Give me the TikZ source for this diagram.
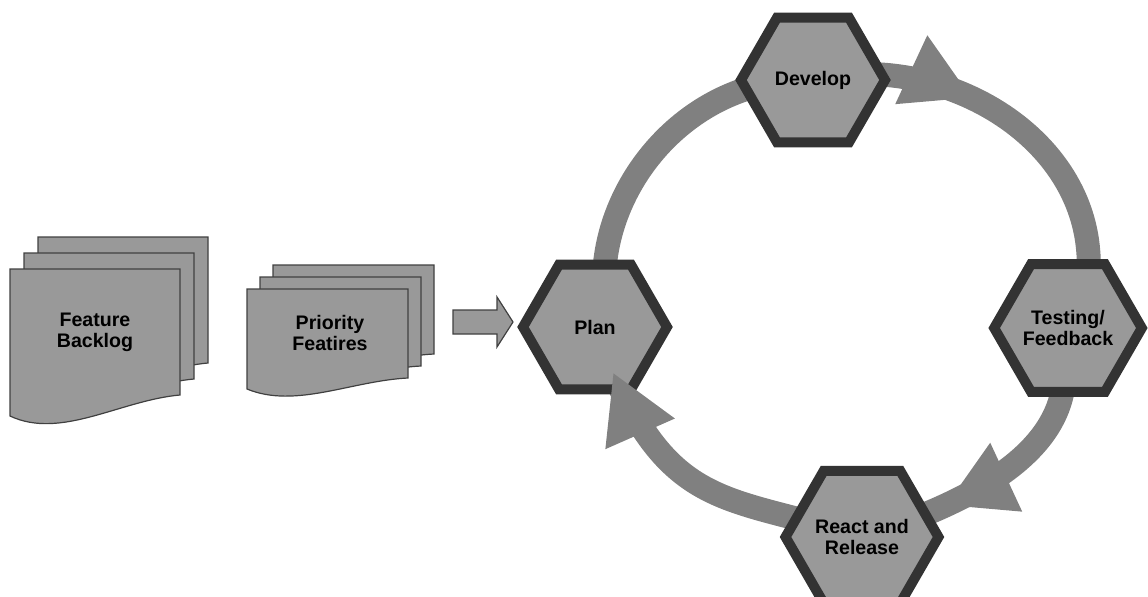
\documentclass[tikz,border=0pt]{standalone}
\usepackage{fontspec}
\setmainfont{Liberation Sans}
\usepackage{xcolor}
\usepackage{tikz}
\usetikzlibrary{arrows.meta}
\usetikzlibrary{shapes,shapes.geometric}
\usetikzlibrary{decorations.markings,backgrounds}
\definecolor{hexfill}{gray}{0.6}
\definecolor{hexline}{gray}{0.2}
\definecolor{ringgray}{gray}{0.5}
\definecolor{sheetline}{gray}{0.25}
\tikzset{
  hexa/.style={regular polygon, regular polygon sides=6, minimum size=72pt, inner sep=0pt, outer sep=0pt,
    draw=hexline, line width=5pt, fill=hexfill, align=center, font=\fontsize{9.8}{10.4}\selectfont\bfseries},
  ring/.style={draw, color=ringgray, line width=12pt},
  ringtip/.style={postaction=decorate, decoration={markings,
    mark=at position #1 with {\arrow{Triangle[width=38pt,length=33pt,line width=0pt]}}}},
  sheet/.style={draw=sheetline, fill=hexfill, line width=0.6pt},
  doclabel/.style={align=center, font=\fontsize{9.8}{10.4}\selectfont\bfseries}
}
\newcommand{\paper}[5]{\draw[sheet] #1 -- ++(#2,0) -- ++(0,-#3)
  .. controls +(-0.35*#2,-0.25*#4) and +(0.3*#2,-#5) .. ++(-#2,-#4) -- cycle;}

\begin{document}
\begin{tikzpicture}[x=0.5pt,y=0.5pt]
  \useasboundingbox (0,0) rectangle (1148,-596);
  \paper{(38,-237)}{170}{126}{21}{24}
  \paper{(24,-253)}{170}{126}{21}{24}
  \paper{(10,-269)}{170}{126}{21}{24}
  \node[doclabel] (backlog) at (95,-332) {Feature\\Backlog};
  \paper{(273,-265)}{161}{89}{11}{20}
  \paper{(260,-277)}{161}{89}{11}{20}
  \paper{(247,-289)}{161}{89}{11}{20}
  \node[doclabel] (priority) at (330,-333) {Priority\\Featires};
  \draw[sheet] (453,-310) -- (497,-310) -- (497,-297) -- (513,-322) -- (497,-347) -- (497,-334) -- (453,-334) -- cycle;

  \node[hexa] (plan) at (595,-327) {Plan};
  \node[hexa] (develop) at (813,-80) {Develop};
  \node[hexa] (testing) at (1068,-328) {Testing/\\Feedback};
  \node[hexa] (react) at (862,-537) {React and\\Release};

  \begin{scope}[on background layer]
    \draw[ring] (plan.81) .. controls +(84.3:100) and +(177.4:110) .. (develop.center);
    \draw[ring, ringtip=81pt] (develop.center) .. controls +(13.3:130) and +(90:129) .. (testing.72);
    \draw[ring, ringtip=84pt] (testing.265) .. controls +(-101.5:60) and +(17.5:130) .. (react.center);
    \draw[ring] (react.center) .. controls +(162.5:150) and +(290:200) .. (plan.center);
  \end{scope}
  \path[color=ringgray, ringtip=-25pt] (react.center) .. controls +(162.5:150) and +(290:200) .. (plan.center);
\end{tikzpicture}
\end{document}
